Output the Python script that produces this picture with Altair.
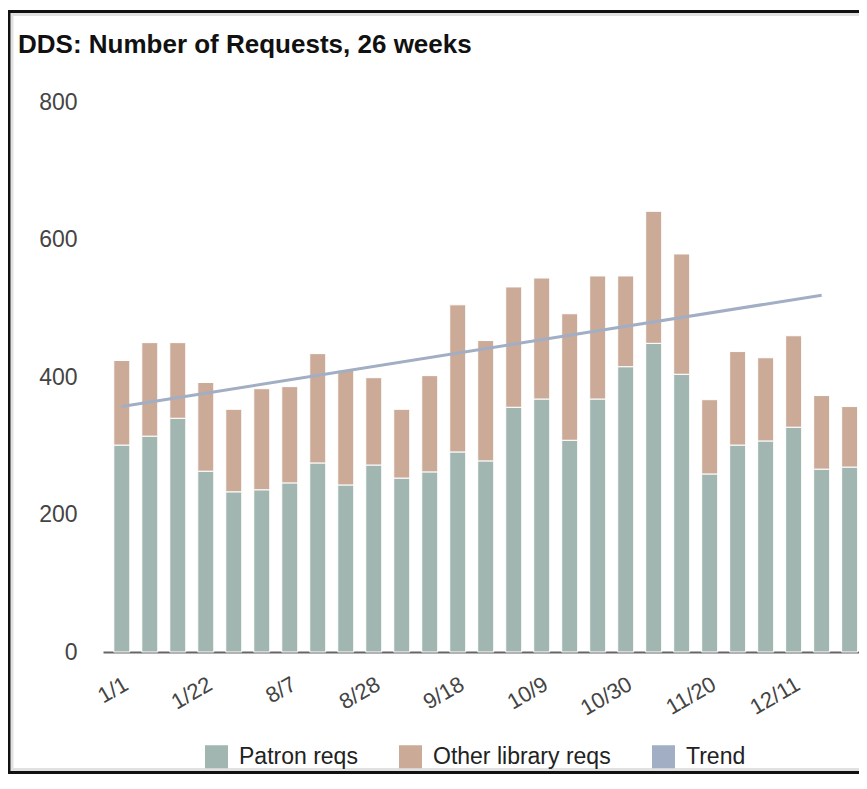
import altair as alt
import pandas as pd

# ---- data ----
dates = ['1/1', '1/8', '1/15', '1/22', '7/24', '7/31', '8/7', '8/14', '8/21', '8/28',
         '9/4', '9/11', '9/18', '9/25', '10/2', '10/9', '10/16', '10/23', '10/30',
         '11/6', '11/13', '11/20', '11/27', '12/4', '12/11', '12/18', '12/25']
patron = [301, 314, 340, 263, 233, 236, 246, 275, 243, 272, 253, 262, 291, 278,
          356, 368, 308, 368, 415, 449, 404, 259, 301, 307, 327, 266, 269]
other = [123, 136, 110, 129, 120, 147, 140, 159, 167, 127, 100, 140, 214, 175,
         175, 176, 184, 179, 132, 192, 175, 108, 136, 121, 133, 107, 88]
trend_week = [0, 25]
trend_value = [357, 519]

series = ['Patron reqs', 'Other library reqs', 'Trend']
colors = ['#a1b6b1', '#cbaa98', '#a2aec4']
y_ticks = [0, 200, 400, 600, 800]
x_label_weeks = [0, 3, 6, 9, 12, 15, 18, 21, 24]

rows = []
for i, d in enumerate(dates):
    rows.append({'week': i, 'date': d, 'series': series[0], 'value': patron[i], 'order': 0})
    rows.append({'week': i, 'date': d, 'series': series[1], 'value': other[i], 'order': 1})
bars_df = pd.DataFrame(rows)
trend_df = pd.DataFrame({'week': trend_week, 'value': trend_value})

FONT = 'Liberation Sans'
label_expr = '[' + ','.join("'%s'" % d for d in dates) + '][datum.value]'

x_scale = alt.Scale(domain=[-0.493, 26.155], nice=False, zero=False)
y_scale = alt.Scale(domain=[0, 800], nice=False)

x_axis = alt.Axis(values=x_label_weeks, labelExpr=label_expr, title=None, grid=False,
                  ticks=False, tickSize=0, labelAngle=-30, labelAlign='right',
                  labelBaseline='middle', labelPadding=30, labelOffset=4,
                  labelFont=FONT, labelFontSize=22, labelColor='#444',
                  domainColor='#666', domainWidth=2, labelOverlap=False)
y_axis = alt.Axis(values=y_ticks, title=None, grid=False, ticks=False, tickSize=0,
                  domain=False, labelPadding=26, labelFont=FONT, labelFontSize=23,
                  labelColor='#444')

bars = alt.Chart(bars_df).mark_bar(width=16, stroke='white', strokeWidth=1).encode(
    x=alt.X('week:Q', scale=x_scale, axis=x_axis),
    y=alt.Y('value:Q', stack='zero', scale=y_scale, axis=y_axis),
    color=alt.Color('series:N', scale=alt.Scale(domain=series, range=colors),
                    legend=alt.Legend(orient='none', legendX=102, legendY=643,
                                      direction='horizontal', title=None,
                                      symbolType='square', symbolSize=529,
                                      symbolStrokeWidth=0, labelFont=FONT,
                                      labelFontSize=23, labelColor='#222',
                                      labelOffset=11, columnPadding=41,
                                      padding=0, labelLimit=400)),
    order=alt.Order('order:Q', sort='ascending'),
)

trend = alt.Chart(trend_df).mark_line(color=colors[2], strokeWidth=3).encode(
    x=alt.X('week:Q', scale=x_scale, axis=x_axis),
    y=alt.Y('value:Q', scale=y_scale, axis=y_axis),
)

# decorative frame around the whole chart (with a soft inner shadow)
shadow = alt.Chart(alt.Data(values=[{'f': 1}])).mark_rect(
    filled=False, stroke='#d4d4d4', strokeWidth=3, strokeOpacity=0.7).encode(
    x=alt.value(-91), x2=alt.value(775), y=alt.value(-87.5), y2=alt.value(667.5))
frame = alt.Chart(alt.Data(values=[{'f': 1}])).mark_rect(
    filled=False, stroke='#111', strokeWidth=3).encode(
    x=alt.value(-94), x2=alt.value(780), y=alt.value(-90.5), y2=alt.value(670.5))

chart = alt.layer(bars, trend, shadow, frame).properties(
    width=756, height=550,
    autosize=alt.AutoSizeParams(type='none'),
    padding={'left': 95, 'top': 94, 'right': 0, 'bottom': 122},
    title=alt.TitleParams(text='DDS: Number of Requests, 26 weeks', anchor='start',
                          frame='group', font=FONT, fontSize=26, fontWeight='bold',
                          color='#111', dx=-85, dy=69, offset=0,
                          baseline='alphabetic'),
).configure(background='white').configure_view(stroke='transparent')

chart.save('out.html', embed_options={'renderer': 'svg', 'actions': False})
